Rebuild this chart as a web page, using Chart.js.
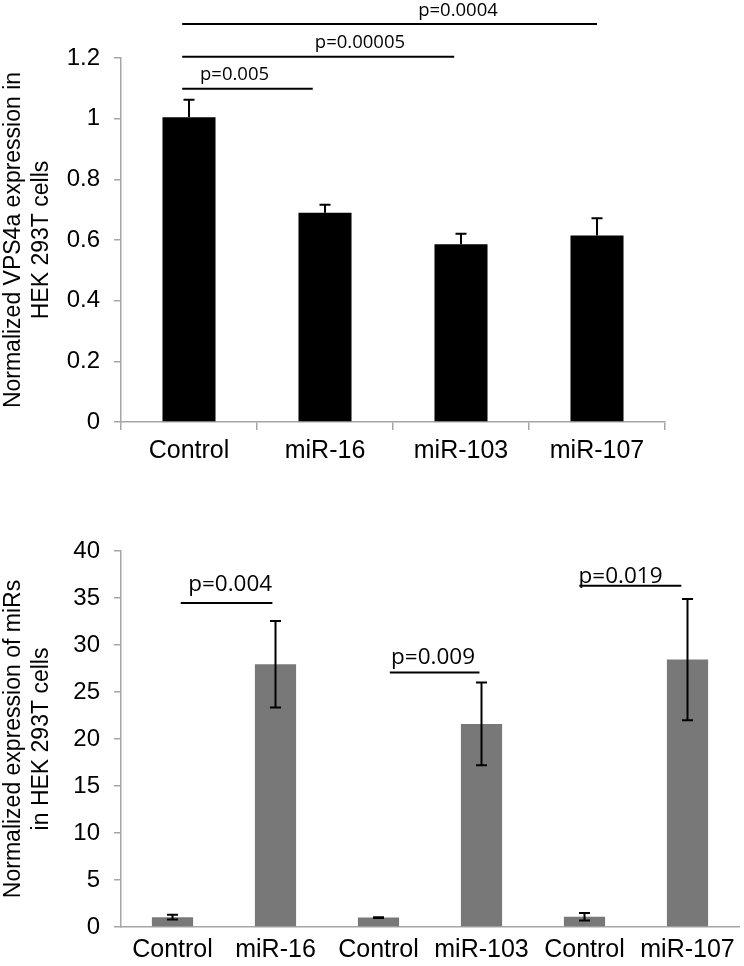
<!DOCTYPE html>
<html>
<head>
<meta charset="utf-8">
<script src="https://cdn.jsdelivr.net/npm/chart.js@4.4.1/dist/chart.umd.min.js"></script>
<style>
  body { margin: 0; background: #fff; }
  .box { position: absolute; left: 0; width: 744px; }
  #boxTop { top: 0; height: 480px; }
  #boxBottom { top: 480px; height: 486px; }
</style>
</head>
<body>
<div class="box" id="boxTop"><canvas id="topChart"></canvas></div>
<div class="box" id="boxBottom"><canvas id="bottomChart"></canvas></div>
<script>
// top panel - VPS4a expression
const topLabels = ['Control', 'miR-16', 'miR-103', 'miR-107'];
const topValues = [1.005, 0.69, 0.586, 0.615];
const topErrors = [0.057, 0.026, 0.035, 0.057];
// significance bars (x in category units, y in axis units)
const topSigText = ['p=0.005', 'p=0.00005', 'p=0.0004'];
const topSigFrom = [-0.05, -0.05, -0.05];
const topSigTo = [0.91, 1.95, 3.0];
const topSigLevel = [1.099, 1.204, 1.312];
const topSigTextAt = [0.335, 1.257, 1.978];
const topSigTextLevel = [1.128, 1.232, 1.339];

// bottom panel - miR expression
const bottomLabels = ['Control', 'miR-16', 'Control', 'miR-103', 'Control', 'miR-107'];
const bottomValues = [1.05, 27.95, 1.0, 21.6, 1.1, 28.45];
const bottomErrors = [0.25, 4.6, 0.05, 4.4, 0.4, 6.45];
const bottomSigText = ['p=0.004', 'p=0.009', 'p=0.019'];
const bottomSigFrom = [0.08, 2.11, 3.95];
const bottomSigTo = [0.97, 2.98, 4.94];
const bottomSigLevel = [34.46, 27.07, 36.3];
const bottomSigTextAt = [0.56, 2.53, 4.35];
const bottomSigTextLevel = [35.73, 27.95, 36.58];

const sans = "'Liberation Sans', Arial, sans-serif";
const axisGrey = '#a6a6a6';

// error bars + p-value brackets, drawn through the chart's scales
function extrasPlugin(errors, bothSides, sig) {
  return {
    id: 'extras',
    afterDraw(chart) {
      const ctx = chart.ctx;
      const xs = chart.scales.x, ys = chart.scales.y;
      const bars = chart.getDatasetMeta(0).data;
      const vals = chart.data.datasets[0].data;
      ctx.save();
      ctx.strokeStyle = '#000';
      ctx.lineWidth = 2;
      bars.forEach((bar, i) => {
        const top = ys.getPixelForValue(vals[i] + errors[i]);
        const bot = ys.getPixelForValue(bothSides ? vals[i] - errors[i] : vals[i]);
        ctx.beginPath();
        ctx.moveTo(bar.x, top); ctx.lineTo(bar.x, bot);
        ctx.moveTo(bar.x - 5.5, top); ctx.lineTo(bar.x + 5.5, top);
        if (bothSides) { ctx.moveTo(bar.x - 5.5, bot); ctx.lineTo(bar.x + 5.5, bot); }
        ctx.stroke();
      });
      ctx.font = sig.font;
      ctx.fillStyle = '#000';
      ctx.textAlign = 'center';
      ctx.textBaseline = 'alphabetic';
      sig.text.forEach((t, i) => {
        const yy = ys.getPixelForValue(sig.level[i]);
        ctx.beginPath();
        ctx.moveTo(xs.getPixelForValue(sig.from[i]), yy);
        ctx.lineTo(xs.getPixelForValue(sig.to[i]), yy);
        ctx.stroke();
        ctx.fillText(t, xs.getPixelForValue(sig.textAt[i]), ys.getPixelForValue(sig.textLevel[i]));
      });
      ctx.restore();
    }
  };
}

function yAxis(max, step, title) {
  return {
    min: 0, max: max,
    afterFit: s => { s.width = 121; },
    ticks: {
      stepSize: step,
      padding: 14,
      color: '#000',
      font: { family: sans, size: 24 },
      callback: v => String(Number(v.toFixed(2)))
    },
    grid: { drawOnChartArea: false, drawTicks: true, tickLength: 7, color: axisGrey, lineWidth: 1.5 },
    border: { color: axisGrey, width: 1.5 },
    title: {
      display: true,
      text: title,
      color: '#000',
      padding: 0,
      font: { family: sans, size: 23, lineHeight: 1.2 }
    }
  };
}

function xTicks(pad) {
  return { color: '#000', padding: pad, maxRotation: 0, autoSkip: false, font: { family: sans, size: 25 } };
}

new Chart('topChart', {
  type: 'bar',
  data: {
    labels: topLabels,
    datasets: [{ data: topValues, backgroundColor: '#000', barPercentage: 0.39, categoryPercentage: 1 }]
  },
  options: {
    responsive: true,
    maintainAspectRatio: false,
    animation: false,
    layout: { padding: { left: 0, top: 58, right: 79, bottom: 0 } },
    plugins: { legend: { display: false }, tooltip: { enabled: false } },
    scales: {
      x: {
        afterFit: s => { s.height = 58; },
        ticks: xTicks(6),
        grid: { drawOnChartArea: false, drawTicks: true, tickLength: 8, color: axisGrey, lineWidth: 1.5 },
        border: { color: axisGrey, width: 1.5 }
      },
      y: yAxis(1.2, 0.2, ['Normalized VPS4a expression in', 'HEK 293T cells'])
    }
  },
  plugins: [extrasPlugin(topErrors, false, {
    text: topSigText, from: topSigFrom, to: topSigTo, level: topSigLevel,
    textAt: topSigTextAt, textLevel: topSigTextLevel,
    font: "18.5px 'Open Sans', sans-serif"
  })]
});

new Chart('bottomChart', {
  type: 'bar',
  data: {
    labels: bottomLabels,
    datasets: [{ data: bottomValues, backgroundColor: '#787878', barPercentage: 0.4, categoryPercentage: 1 }]
  },
  options: {
    responsive: true,
    maintainAspectRatio: false,
    animation: false,
    layout: { padding: { left: 0, top: 71, right: 5, bottom: 0 } },
    plugins: { legend: { display: false }, tooltip: { enabled: false } },
    scales: {
      x: {
        afterFit: s => { s.height = 39; },
        ticks: xTicks(8),
        grid: { drawOnChartArea: false, drawTicks: false },
        border: { color: axisGrey, width: 1.5 }
      },
      y: yAxis(40, 5, ['Normalized expression of miRs', 'in HEK 293T cells'])
    }
  },
  plugins: [extrasPlugin(bottomErrors, true, {
    text: bottomSigText, from: bottomSigFrom, to: bottomSigTo, level: bottomSigLevel,
    textAt: bottomSigTextAt, textLevel: bottomSigTextLevel,
    font: "22.5px 'Open Sans', sans-serif"
  })]
});
</script>
</body>
</html>
